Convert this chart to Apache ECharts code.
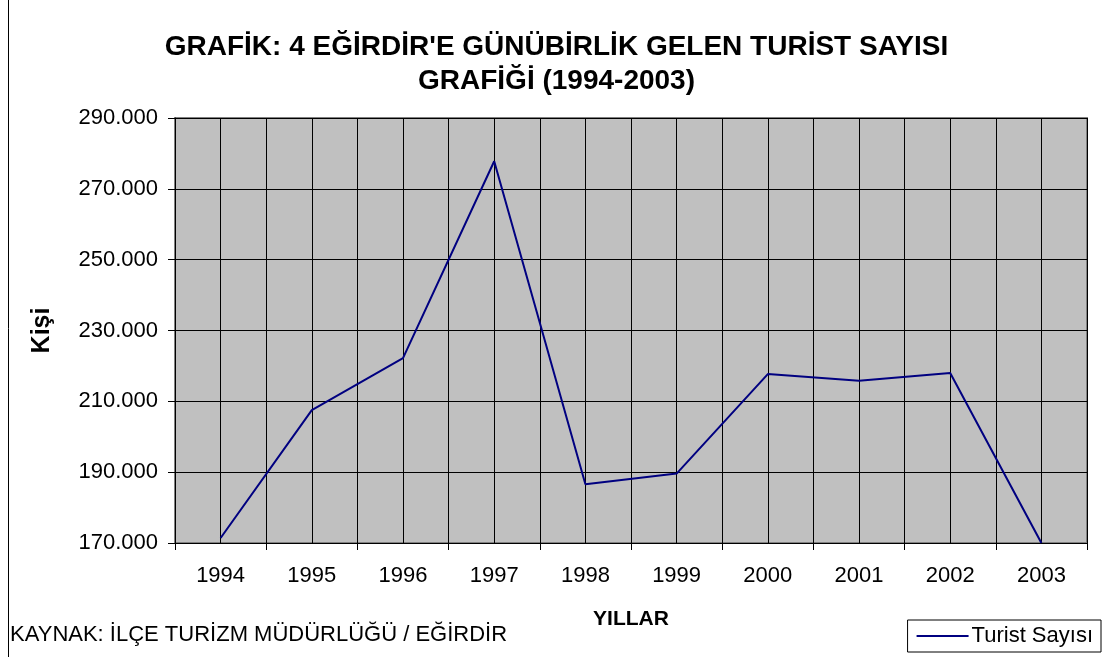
<!DOCTYPE html>
<html>
<head>
<meta charset="utf-8">
<script src="https://cdn.jsdelivr.net/npm/echarts@6/dist/echarts.min.js"></script>
<style>
html, body { margin: 0; padding: 0; background: #fff; }
#chart { width: 1113px; height: 657px; }
</style>
</head>
<body>
<div id="chart"></div>
<script>
var years = ['1994', '1995', '1996', '1997', '1998', '1999', '2000', '2001', '2002', '2003'];
var turistSayisi = [171400, 207500, 222200, 277800, 186600, 189600, 217700, 215800, 218000, 170000];
var yTicks = [170000, 190000, 210000, 230000, 250000, 270000, 290000];

var chart = echarts.init(document.getElementById('chart'));
var font = 'Liberation Sans, Arial, sans-serif';

var option = {
	backgroundColor: '#fff',
	textStyle: { fontFamily: font, color: '#000' },
	title: {
		text: "GRAFİK: 4 EĞİRDİR'E GÜNÜBİRLİK GELEN TURİST SAYISI\nGRAFİĞİ (1994-2003)",
		left: 'center',
		top: 25,
		textStyle: { fontFamily: font, fontSize: 28, fontWeight: 'bold', color: '#000', lineHeight: 34 }
	},
	legend: {
		data: ['Turist Sayısı'],
		right: 12,
		bottom: 5,
		orient: 'horizontal',
		icon: 'rect',
		backgroundColor: '#fff',
		borderColor: '#000',
		borderWidth: 1,
		borderRadius: 0,
		padding: [5, 8, 5, 9],
		itemWidth: 52,
		itemHeight: 2,
		itemGap: 4,
		textStyle: { fontFamily: font, fontSize: 22, color: '#000', padding: [0, 0, 0, -2] }
	},
	grid: {
		left: 175,
		top: 118,
		right: 26,
		bottom: 114,
		show: true,
		backgroundColor: '#c0c0c0',
		borderColor: '#808080',
		borderWidth: 2
	},
	xAxis: [{
		type: 'category',
		data: years,
		boundaryGap: true,
		name: 'YILLAR',
		nameLocation: 'middle',
		nameGap: 66,
		nameTextStyle: { fontFamily: font, fontSize: 21, fontWeight: 'bold', color: '#000' },
		axisLine: { lineStyle: { color: '#000', width: 1 } },
		axisTick: { show: true, length: 7, lineStyle: { color: '#000' } },
		axisLabel: { fontFamily: font, fontSize: 22, color: '#000', margin: 22 },
		splitLine: { show: false }
	}, {
		// half-category grid lines
		type: 'value',
		min: 0,
		max: 20,
		interval: 1,
		show: true,
		position: 'bottom',
		axisLine: { show: false },
		axisTick: { show: false },
		axisLabel: { show: false },
		splitLine: { show: true, lineStyle: { color: '#000', width: 1 } }
	}],
	yAxis: {
		type: 'value',
		min: yTicks[0],
		max: yTicks[yTicks.length - 1],
		interval: yTicks[1] - yTicks[0],
		name: 'Kişi',
		nameLocation: 'middle',
		nameGap: 120,
		nameRotate: 90,
		nameTextStyle: { fontFamily: font, fontSize: 25, fontWeight: 'bold', color: '#000' },
		axisLine: { show: true, lineStyle: { color: '#000', width: 1 } },
		axisTick: { show: true, length: 7, lineStyle: { color: '#000' } },
		axisLabel: {
			fontFamily: font, fontSize: 22, color: '#000', margin: 17,
			formatter: function(v) { return (v / 1000) + '.000'; }
		},
		splitLine: { show: true, lineStyle: { color: '#000', width: 1 } }
	},
	graphic: [{
		type: 'line',
		shape: { x1: 8.5, y1: 0, x2: 8.5, y2: 657 },
		style: { stroke: '#000', lineWidth: 1 }
	}, {
		type: 'text',
		left: 10,
		top: 624,
		style: { text: 'KAYNAK: İLÇE TURİZM MÜDÜRLÜĞÜ / EĞİRDİR', font: '22px ' + font, fill: '#000' }
	}],
	series: [{
		name: 'Turist Sayısı',
		type: 'line',
		xAxisIndex: 0,
		data: turistSayisi,
		symbol: 'none',
		lineStyle: { color: '#000080', width: 2 },
		itemStyle: { color: '#000080' },
		clip: false
	}]
};

chart.setOption(option);
</script>
</body>
</html>
